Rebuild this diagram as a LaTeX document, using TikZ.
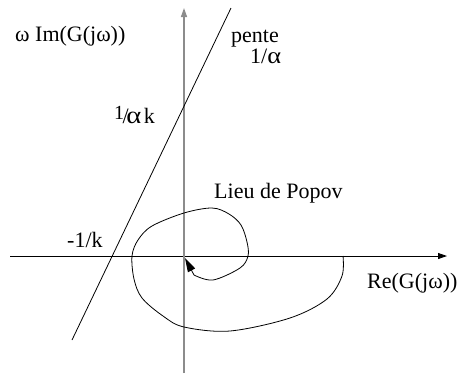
\documentclass[tikz,border=0pt]{standalone}
\usepackage{fontspec}
\setmainfont{Liberation Serif}
\usetikzlibrary{arrows.meta}
\begin{document}
\begin{tikzpicture}[x=1pt,y=-1pt,
  lbl/.style={anchor=base west,inner sep=0pt,font=\fontsize{22}{26}\selectfont},
  axis/.style={line width=0.8pt,-{Triangle[length=9pt,width=6pt]}},
  curve/.style={line width=0.8pt}]
\useasboundingbox (0,0) rectangle (461,376);
\coordinate (xl) at (10,256);
\coordinate (xr) at (447,256);
\coordinate (yb) at (184,373);
\coordinate (yt) at (184,8);
\coordinate (l1) at (72,340);
\coordinate (l2) at (231,8);
\coordinate (cs) at (343,256);
\coordinate (ce) at (194,275);
\coordinate (ct) at (185,258);
\draw[axis] (xl) -- (xr);
\draw[axis,draw=gray!90,line width=1.4pt] (yb) -- (yt);
\draw[curve] (l1) -- (l2);
\draw[curve,-{Triangle[length=14pt,width=8pt]}] plot[smooth,tension=0.55] coordinates {
 (343,256) (342,276) (327,299) (290,318) (230,331) (184,327) (163,316) (142,298)
 (134,279) (132,256) (138,240) (152,226) (184,213) (212,208) (229,214) (241,225)
 (247,242) (248,256) (240,268) (213,280) (194,275)} -- (ct);
\node[lbl] (im) at (15,41) {ω Im(G(jω))};
\node[lbl] (pente) at (231,42) {pente};
\node[lbl] (slope) at (250,63) {1/\scalebox{1.2}[1.05]{α}};
\node[lbl] (inter) at (114,123) {\raisebox{3.5pt}{\fontsize{20}{20}\selectfont 1}\kern-1.5pt/\kern-2.5pt\scalebox{1.3}[1.1]{α}\kern2.5pt k};
\node[lbl] (mk) at (67,247) {-1/k};
\node[lbl] (lieu) at (214,198) {Lieu de Popov};
\node[lbl] (re) at (367,288) {Re(G(jω))};
\end{tikzpicture}
\end{document}
